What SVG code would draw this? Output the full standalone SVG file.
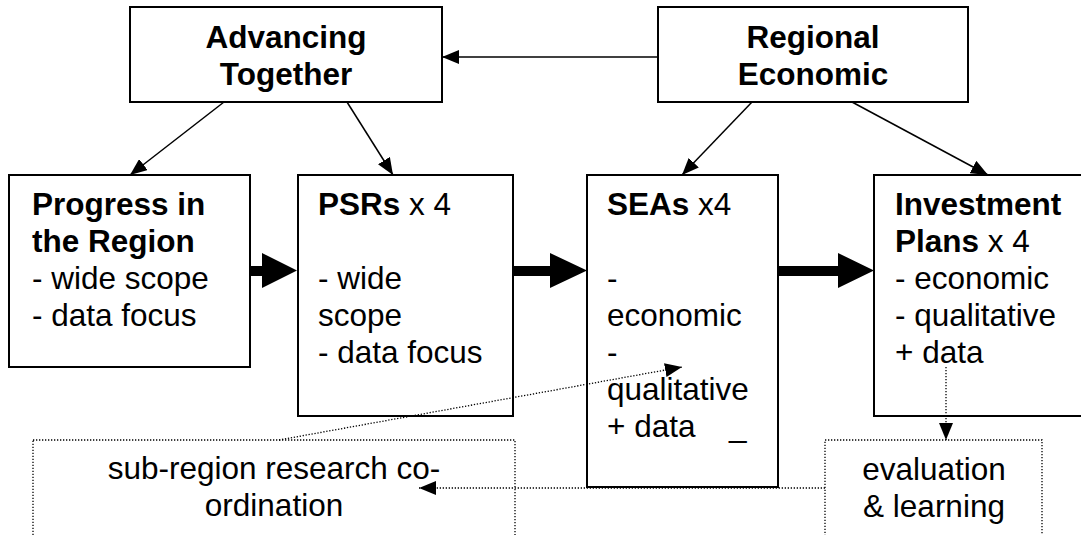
<svg xmlns="http://www.w3.org/2000/svg" width="1081" height="535" viewBox="0 0 1081 535">
<style>
.box{fill:#fff;stroke:#000;stroke-width:2}
.dbox{fill:none;stroke:#000;stroke-width:1.3;stroke-dasharray:1.3,1.7}
.t{font-family:"Liberation Sans",Arial,sans-serif;font-size:31.5px;fill:#000}
.b{font-weight:bold}
.ln{stroke:#000;stroke-width:1.5;fill:none}
.dl{stroke:#000;stroke-width:1.3;fill:none;stroke-dasharray:1.3,1.7}
.thick{fill:#000}
</style>
<defs>
<marker id="ah" markerWidth="17" markerHeight="14" refX="17" refY="7" orient="auto" markerUnits="userSpaceOnUse">
<path d="M0,0 L17,7 L0,14 Z" fill="#000"/>
</marker>
</defs>
<g id="connectors">
<line class="ln" x1="658" y1="57" x2="442" y2="57" marker-end="url(#ah)"/>
<line class="ln" x1="224" y1="102" x2="130" y2="175" marker-end="url(#ah)"/>
<line class="ln" x1="347" y1="102" x2="393" y2="175" marker-end="url(#ah)"/>
<line class="ln" x1="752" y1="102" x2="682" y2="175" marker-end="url(#ah)"/>
<line class="ln" x1="852" y1="102" x2="988" y2="175" marker-end="url(#ah)"/>
<line class="dl" x1="825" y1="488" x2="419" y2="488" marker-end="url(#ah)"/>
</g>
<g id="advancing">
<rect class="box" x="130" y="7" width="312" height="95"/>
<text class="t b" x="286" y="48" text-anchor="middle">Advancing</text>
<text class="t b" x="286" y="85" text-anchor="middle">Together</text>
</g>
<g id="regional">
<rect class="box" x="658" y="7" width="310" height="95"/>
<text class="t b" x="813" y="48" text-anchor="middle">Regional</text>
<text class="t b" x="813" y="85" text-anchor="middle">Economic</text>
</g>
<g id="progress">
<rect class="box" x="9" y="175" width="241" height="192"/>
<text class="t b" x="32" y="215">Progress in</text>
<text class="t b" x="32" y="252">the Region</text>
<text class="t" x="32" y="289">- wide scope</text>
<text class="t" x="32" y="326">- data focus</text>
</g>
<g id="psrs">
<rect class="box" x="298" y="175" width="215" height="241"/>
<text class="t" x="318" y="215"><tspan class="b">PSRs</tspan> x 4</text>
<text class="t" x="318" y="289">- wide</text>
<text class="t" x="318" y="326">scope</text>
<text class="t" x="318" y="363">- data focus</text>
</g>
<g id="seas">
<rect class="box" x="587" y="175" width="191" height="312"/>
<text class="t" x="607" y="215"><tspan class="b">SEAs</tspan> x4</text>
<text class="t" x="607" y="289">-</text>
<text class="t" x="607" y="326">economic</text>
<text class="t" x="607" y="363">-</text>
<text class="t" x="607" y="400">qualitative</text>
<text class="t" x="607" y="437">+ data</text>
<text class="t" x="729" y="437">_</text>
</g>
<g id="investment">
<rect class="box" x="874" y="175" width="215" height="241"/>
<text class="t b" x="895" y="215">Investment</text>
<text class="t" x="895" y="252"><tspan class="b">Plans</tspan> x 4</text>
<text class="t" x="895" y="289">- economic</text>
<text class="t" x="895" y="326">- qualitative</text>
<text class="t" x="895" y="363">+ data</text>
</g>
<g id="thick-arrows">
<path class="thick" d="M250,266 H262 V253 L297,270.5 L262,288 V276 H250 Z"/>
<path class="thick" d="M513,266 H550 V253 L587,270.5 L550,288 V276 H513 Z"/>
<path class="thick" d="M778,266 H838 V253 L874,270.5 L838,288 V276 H778 Z"/>
</g>
<g id="subregion">
<rect class="dbox" x="33" y="440" width="482" height="101"/>
<text class="t" x="274" y="479" text-anchor="middle">sub-region research co-</text>
<text class="t" x="274" y="516" text-anchor="middle">ordination</text>
</g>
<g id="evaluation">
<rect class="dbox" x="825" y="440" width="217" height="101"/>
<text class="t" x="934" y="480" text-anchor="middle">evaluation</text>
<text class="t" x="934" y="517" text-anchor="middle">&amp; learning</text>
</g>
<g id="dotted-connectors">
<line class="dl" x1="279" y1="440" x2="682" y2="367" marker-end="url(#ah)"/>
<line class="dl" x1="946" y1="367" x2="946" y2="440" marker-end="url(#ah)"/>
</g>
</svg>
